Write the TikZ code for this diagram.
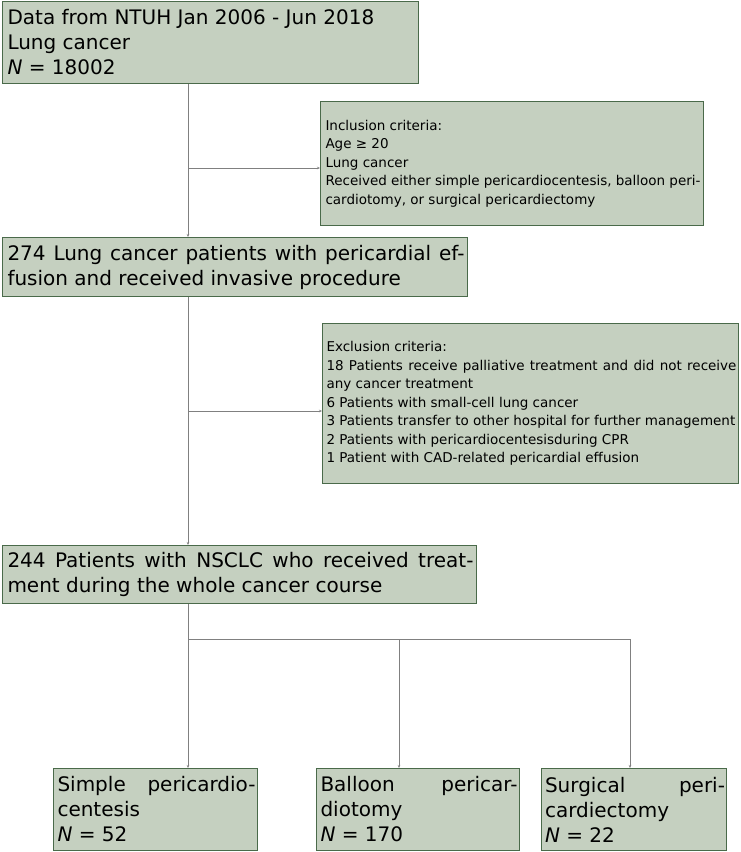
\documentclass[tikz,border=0pt]{standalone}
\usepackage{fontspec}
\setmainfont{DejaVu Sans}
\usetikzlibrary{arrows.meta}
\definecolor{bfill}{HTML}{C5D0C0}
\definecolor{bline}{HTML}{4A6A4A}
\definecolor{cline}{HTML}{808080}
\tikzset{
 box/.style={draw=bline,fill=bfill,line width=1pt,anchor=north west,inner sep=0pt,minimum width=#1,align=left},
 conn/.style={draw=cline,line width=0.8pt,-{Stealth[length=3pt,width=2.5pt]}},
 ln/.style={draw=cline,line width=0.8pt},
 big/.style={font=\fontsize{20}{25}\selectfont},
 med/.style={font=\fontsize{13.5}{18.5}\selectfont},
}
\begin{document}
\begin{tikzpicture}[x=1pt,y=-1pt]
\useasboundingbox (0,0) rectangle (740,852);
\node[box=416pt,big,minimum height=82pt] (a) at (2,1) {\hspace*{2pt}\parbox[t]{408pt}{Data from NTUH Jan 2006 - Jun 2018\\Lung cancer\\\textit{N} = 18002}};
\node[box=383pt,med,minimum height=124pt] (inc) at (320,101) {\hspace*{2pt}\parbox[t]{375pt}{Inclusion criteria:\\Age ≥ 20\\Lung cancer\\Received either simple pericardiocentesis, balloon pericardiotomy, or surgical pericardiectomy}};
\node[box=465pt,big,minimum height=59pt] (b) at (2,237) {\hspace*{2pt}\parbox[t]{457pt}{274 Lung cancer patients with pericardial effusion and received invasive procedure}};
\node[box=416pt,med,minimum height=160pt] (exc) at (322,323) {\hspace*{2pt}\parbox[t]{410pt}{Exclusion criteria:\\18 Patients receive palliative treatment and did not receive any cancer treatment\\6 Patients with small-cell lung cancer\\3 Patients transfer to other hospital for further management\\2 Patients with pericardiocentesisduring CPR\\1 Patient with CAD-related pericardial effusion}};
\node[box=474pt,big,minimum height=58pt] (c) at (2,545) {\hspace*{2pt}\parbox[t]{466pt}{244 Patients with NSCLC who received treatment during the whole cancer course}};
\node[box=204pt,big,minimum height=82pt] (d1) at (53,768) {\hspace*{2pt}\parbox[t]{198pt}{Simple pericardiocentesis\\\textit{N} = 52}};
\node[box=203pt,big,minimum height=82pt] (d2) at (316,768) {\hspace*{2pt}\parbox[t]{197pt}{Balloon pericardiotomy\\\textit{N} = 170}};
\node[box=185pt,big,minimum height=82pt] (d3) at (541,768) {\hspace*{2pt}\parbox[t]{180pt}{Surgical pericardiectomy\\\textit{N} = 22}};
\coordinate (j1) at (188,168);
\coordinate (j2) at (188,411);
\coordinate (j3) at (188,639);
\draw[conn] (a.south west -| j1) -- (b.north west -| j1);
\draw[conn] (j1) -- (j1 -| inc.west);
\draw[conn] (b.south west -| j2) -- (c.north west -| j2);
\draw[conn] (j2) -- (j2 -| exc.west);
\draw[conn] (c.south west -| j3) -- (d1.north west -| j3);
\draw[ln] (j3) -- (630,639);
\draw[conn] (399,639) -- (399,768);
\draw[conn] (630,639) -- (630,768);
\end{tikzpicture}
\end{document}
